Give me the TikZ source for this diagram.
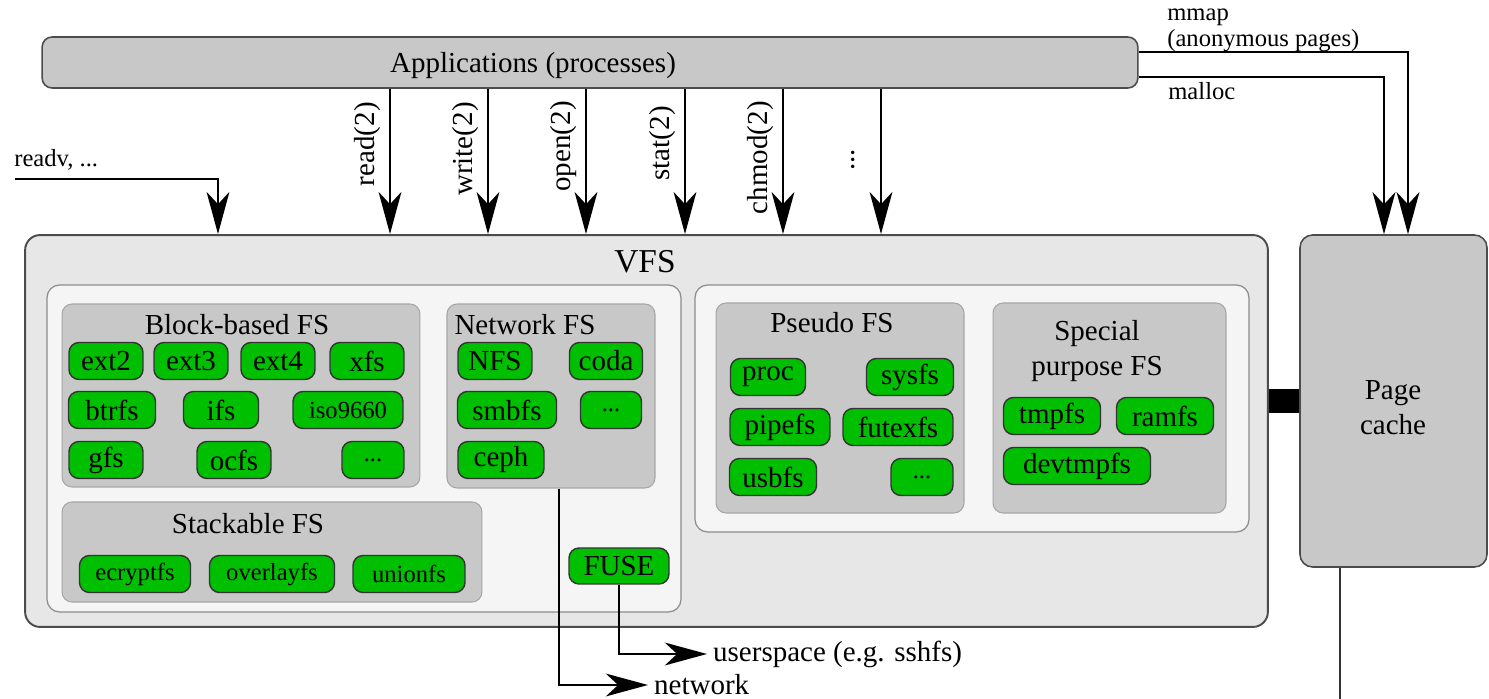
\documentclass[tikz,border=0pt]{standalone}
\usepackage{fontspec}
\setmainfont{Liberation Serif}
\usetikzlibrary{arrows.meta, positioning}

\definecolor{fsGreen}{RGB}{0,190,0}
\definecolor{boxGray}{RGB}{200,200,200}
\definecolor{vfsGray}{RGB}{231,231,231}
\definecolor{innerGray}{RGB}{245,245,245}

\begin{document}
\begin{tikzpicture}[x=0.02cm, y=-0.02cm, >={Stealth[length=24pt, width=13pt, inset=7pt]}, font=\fontsize{16.5}{20}\selectfont]
      \tikzstyle{appStyle} = [rectangle, rounded corners=0.2cm, draw=black!70, fill=boxGray, line width=0.9pt, minimum width=21.92cm, minimum height=1.02cm]
      \tikzstyle{vfsStyle} = [rectangle, rounded corners=0.3cm, draw=black!70, fill=vfsGray, line width=1.1pt]
      \tikzstyle{innerStyle} = [rectangle, rounded corners=0.25cm, draw=black!45, fill=innerGray, line width=0.7pt]
      \tikzstyle{groupBox} = [rectangle, rounded corners=0.2cm, draw=black!35, fill=boxGray, line width=0.6pt]
      \tikzstyle{fsNode} = [rectangle, rounded corners=0.2cm, draw=black!80, fill=fsGreen, line width=0.8pt, minimum width=1.48cm, minimum height=0.74cm, inner sep=2pt]
      \tikzstyle{smallFs} = [fsNode, font=\fontsize{14}{16}\selectfont]
      \tikzstyle{sysLabel} = [rotate=90, anchor=south east, inner sep=0pt]
      \tikzstyle{smallText} = [font=\fontsize{14}{16}\selectfont, inner sep=0pt]
      \tikzstyle{myArrow} = [->, draw=black, line width=1.1pt]
      \tikzstyle{myLine} = [draw=black!80, line width=1.1pt]

      \useasboundingbox (0,0) rectangle (1489,699);

      % Cajas principales
      \node [appStyle] (appBox) at (590,62.5) {};
      \node (appText) at (533,66) {Applications (processes)};
      \node [vfsStyle, minimum width=24.86cm, minimum height=7.84cm] (vfsBox) at (646.5,431) {};
      \node [font=\fontsize{19}{22}\selectfont] (vfsTitle) at (645,262) {VFS};
      \node [innerStyle, minimum width=12.68cm, minimum height=6.54cm] (innerLeft) at (364,448.5) {};
      \node [innerStyle, minimum width=11.08cm, minimum height=4.94cm] (innerRight) at (972,408.5) {};
      \node [groupBox, draw=black!70, line width=0.9pt, rounded corners=0.25cm, minimum width=3.74cm, minimum height=6.64cm] (pageCache) at (1393.5,401) {};
      \node [align=center] (pageText) at (1393,408) {Page\\cache};

      % Grupos de sistemas de ficheros
      \node [groupBox, minimum width=7.16cm, minimum height=3.66cm] (blockFS) at (241,395.5) {};
      \node [groupBox, minimum width=4.16cm, minimum height=3.68cm] (netFS) at (551,396) {};
      \node [groupBox, minimum width=8.4cm, minimum height=2.0cm] (stackFS) at (272,552) {};
      \node [groupBox, minimum width=4.96cm, minimum height=4.2cm] (pseudoFS) at (840,408) {};
      \node [groupBox, minimum width=4.66cm, minimum height=4.2cm] (specialFS) at (1109.5,408) {};
      \node (blockTitle) at (237,325) {Block-based FS};
      \node (netTitle) at (525,325) {Network FS};
      \node (stackTitle) at (248,524) {Stackable FS};
      \node (pseudoTitle) at (832,323) {Pseudo FS};
      \node [align=center] (specialTitle) at (1097,351) {Special\\purpose FS};

      % Block-based FS
      \node [fsNode] (ext2) at (106,361) {ext2};
      \node [fsNode] (ext3) at (191,361) {ext3};
      \node [fsNode] (ext4) at (278,361) {ext4};
      \node [fsNode] (xfs) at (367,361) {xfs};
      \node [fsNode, minimum width=1.74cm] (btrfs) at (112,410) {btrfs};
      \node [fsNode, minimum width=1.5cm] (ifs) at (221,410) {ifs};
      \node [smallFs, minimum width=2.2cm] (iso) at (348,410) {iso9660};
      \node [fsNode] (gfs) at (106,460) {gfs};
      \node [fsNode] (ocfs) at (234,460) {ocfs};
      \node [smallFs, minimum width=1.24cm] (dotsBlock) at (373,460) {...};

      % Stackable FS
      \node [smallFs, minimum width=2.22cm] (ecryptfs) at (135,574) {ecryptfs};
      \node [smallFs, minimum width=2.5cm] (overlayfs) at (272,574) {overlayfs};
      \node [smallFs, minimum width=2.24cm] (unionfs) at (409,574) {unionfs};

      % Network FS
      \node [fsNode] (nfs) at (495,361) {NFS};
      \node [fsNode, minimum width=1.46cm] (coda) at (606,361) {coda};
      \node [fsNode, minimum width=1.98cm] (smbfs) at (507,410) {smbfs};
      \node [smallFs, minimum width=1.22cm] (dotsNet) at (611,410) {...};
      \node [fsNode, minimum width=1.72cm] (ceph) at (501,460) {ceph};
      \node [fsNode, minimum width=2.0cm, minimum height=0.72cm] (fuse) at (619,566) {FUSE};

      % Pseudo FS
      \node [fsNode, minimum width=1.5cm] (proc) at (768,377) {proc};
      \node [fsNode, minimum width=1.74cm] (sysfs) at (910,377) {sysfs};
      \node [fsNode, minimum width=2.0cm] (pipefs) at (780,427) {pipefs};
      \node [fsNode, minimum width=2.2cm] (futexfs) at (898,427) {futexfs};
      \node [fsNode, minimum width=1.74cm] (usbfs) at (773,477) {usbfs};
      \node [smallFs, minimum width=1.24cm] (dotsPseudo) at (922,477) {...};

      % Special purpose FS
      \node [fsNode, minimum width=1.94cm] (tmpfs) at (1052,416) {tmpfs};
      \node [fsNode, minimum width=1.94cm] (ramfs) at (1165,416) {ramfs};
      \node [fsNode, minimum width=2.94cm] (devtmpfs) at (1077,466) {devtmpfs};

      % Llamadas al sistema
      \draw [myArrow] (390,0 |- appBox.south) -- (390,0 |- vfsBox.north);
      \draw [myArrow] (488,0 |- appBox.south) -- (488,0 |- vfsBox.north);
      \draw [myArrow] (586,0 |- appBox.south) -- (586,0 |- vfsBox.north);
      \draw [myArrow] (685,0 |- appBox.south) -- (685,0 |- vfsBox.north);
      \draw [myArrow] (783,0 |- appBox.south) -- (783,0 |- vfsBox.north);
      \draw [myArrow] (881,0 |- appBox.south) -- (881,0 |- vfsBox.north);
      \node [sysLabel] (readLbl) at (381,102) {read(2)};
      \node [sysLabel] (writeLbl) at (479,102) {write(2)};
      \node [sysLabel] (openLbl) at (577,101) {open(2)};
      \node [sysLabel] (statLbl) at (676,106) {stat(2)};
      \node [sysLabel] (chmodLbl) at (774,101) {chmod(2)};
      \node [rotate=90] (dotsLbl) at (853,160) {...};

      % readv
      \coordinate (readvStart) at (15,179);
      \node [smallText, anchor=base west] (readvLbl) at (14,167) {readv, ...};
      \draw [myArrow] (readvStart) -| (218,0 |- vfsBox.north);

      % mmap / malloc
      \coordinate (mmapCorner) at (1408,52);
      \coordinate (mallocCorner) at (1384,77);
      \draw [myArrow] (appBox.east |- mmapCorner) -| (mmapCorner |- pageCache.north);
      \draw [myArrow] (appBox.east |- mallocCorner) -| (mallocCorner |- pageCache.north);
      \node [smallText, anchor=base west] (mmapLbl) at (1167,21) {mmap};
      \node [smallText, anchor=base west] (anonLbl) at (1167,47) {(anonymous pages)};
      \node [smallText, anchor=base west] (mallocLbl) at (1168,100) {malloc};

      % VFS - Page cache
      \draw [line width=0.48cm] (vfsBox.east |- pageCache.west) -- (pageCache.west);
      \coordinate (diskEnd) at (1340,705);
      \draw [myLine] (diskEnd |- pageCache.south) -- (diskEnd);

      % Salidas
      \node [anchor=west] (networkLbl) at (648,685) {network};
      \node [anchor=west] (userLbl) at (707,654) {userspace (e.g. sshfs)};
      \draw [myArrow] (559,0 |- netFS.south) |- (networkLbl.west);
      \draw [myArrow] (fuse.south) |- (userLbl.west);

    \end{tikzpicture}
\end{document}
